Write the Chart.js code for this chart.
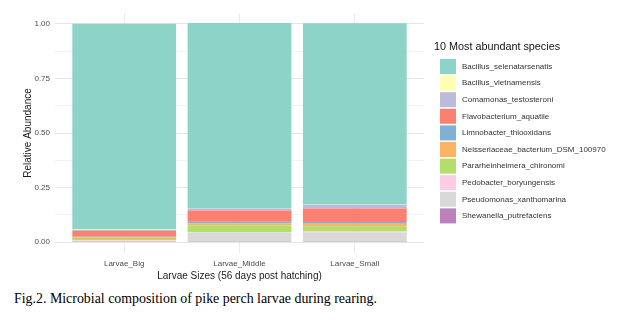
<!DOCTYPE html>
<html>
<head>
<meta charset="utf-8">
<script src="https://cdn.jsdelivr.net/npm/chart.js@4.4.1/dist/chart.umd.min.js"></script>
<style>
  html, body { margin: 0; padding: 0; background: #ffffff; }
  #wrap { position: relative; width: 627px; height: 285px; }
  #caption { position: absolute; left: 14px; top: 291px; font-family: "Liberation Serif", "Times New Roman", serif; font-size: 13.9px; color: #000; white-space: nowrap; }
</style>
</head>
<body>
<div id="wrap"><canvas id="c" width="627" height="285"></canvas></div>
<div id="caption">Fig.2. Microbial composition of pike perch larvae during rearing.</div>
<script>
const categories = ["Larvae_Big", "Larvae_Middle", "Larvae_Small"];
const species = [
  "Bacillus_selenatarsenatis",
  "Bacillus_vietnamensis",
  "Comamonas_testosteroni",
  "Flavobacterium_aquatile",
  "Limnobacter_thiooxidans",
  "Neisseriaceae_bacterium_DSM_100970",
  "Pararheinheimera_chironomi",
  "Pedobacter_boryungensis",
  "Pseudomonas_xanthomarina",
  "Shewanella_putrefaciens"
];
const colors = ["#8DD3C7", "#FFFFB3", "#BEBADA", "#FB8072", "#80B1D3", "#FDB462", "#B3DE69", "#FCCDE5", "#D9D9D9", "#BC80BD"];
// values per species, for [Big, Middle, Small]
const Bacillus_selenatarsenatis = [0.943, 0.849, 0.831];
const Bacillus_vietnamensis     = [0.003, 0.001, 0.001];
const Comamonas_testosteroni    = [0.004, 0.009, 0.017];
const Flavobacterium_aquatile   = [0.025, 0.052, 0.062];
const Limnobacter_thiooxidans   = [0.004, 0.008, 0.008];
const Neisseriaceae_bacterium   = [0.008, 0.008, 0.011];
const Pararheinheimera_chironomi= [0.006, 0.032, 0.024];
const Pedobacter_boryungensis   = [0.002, 0.001, 0.006];
const Pseudomonas_xanthomarina  = [0.005, 0.043, 0.042];
const Shewanella_putrefaciens   = [0.001, 0.001, 0.001];
const seriesValues = [Bacillus_selenatarsenatis, Bacillus_vietnamensis, Comamonas_testosteroni, Flavobacterium_aquatile,
  Limnobacter_thiooxidans, Neisseriaceae_bacterium, Pararheinheimera_chironomi, Pedobacter_boryungensis,
  Pseudomonas_xanthomarina, Shewanella_putrefaciens];
const yTicks = [0, 0.125, 0.25, 0.375, 0.5, 0.625, 0.75, 0.875, 1];
const legendTitle = "10 Most abundant species";

// datasets stacked bottom-up (last species at bottom, like ggplot)
const datasets = [];
for (let s = species.length - 1; s >= 0; s--) {
  datasets.push({
    label: species[s],
    data: seriesValues[s].map((v, i) => ({x: i, y: v})),
    backgroundColor: colors[s],
    borderWidth: 0,
    barPercentage: 0.9,
    categoryPercentage: 1.0
  });
}

const legendPlugin = {
  id: 'ggLegend',
  afterDraw(chart) {
    const ctx = chart.ctx;
    ctx.save();
    ctx.fillStyle = '#111111';
    ctx.font = '10.8px "Liberation Sans", Arial, sans-serif';
    ctx.textBaseline = 'middle';
    ctx.textAlign = 'left';
    ctx.fillText(legendTitle, 434, 47);
    const pitch = 16.6;
    for (let i = 0; i < species.length; i++) {
      const y = 59 + i * pitch;
      ctx.fillStyle = colors[i];
      ctx.fillRect(440, y, 16, 15);
      ctx.fillStyle = '#333333';
      ctx.font = '8px "Liberation Sans", Arial, sans-serif';
      ctx.fillText(species[i], 462, y + 7.5);
    }
    ctx.restore();
  }
};

new Chart(document.getElementById('c'), {
  type: 'bar',
  data: { datasets },
  options: {
    responsive: false,
    animation: false,
    layout: { padding: { left: 18, right: 203, top: 13, bottom: 3 } },
    plugins: { legend: { display: false }, tooltip: { enabled: false } },
    scales: {
      x: {
        type: 'linear',
        stacked: true,
        offset: false,
        min: -0.6,
        max: 2.6,
        afterBuildTicks: (sc) => { sc.ticks = categories.map((c, i) => ({value: i})); },
        afterFit: (sc) => { sc.height = 29; },
        ticks: {
          callback: (v) => categories[v] !== undefined ? categories[v] : '',
          color: '#4d4d4d',
          font: { family: '"Liberation Sans", Arial, sans-serif', size: 8 },
          padding: 6,
          maxRotation: 0,
          autoSkip: false
        },
        grid: { color: '#ebebeb', lineWidth: 1, drawTicks: false, offset: false },
        border: { display: false },
        title: {
          display: true,
          text: 'Larvae Sizes (56 days post hatching)',
          color: '#1a1a1a',
          font: { family: '"Liberation Sans", Arial, sans-serif', size: 10 },
          padding: { top: 0, bottom: 0 }
        }
      },
      y: {
        stacked: true,
        min: -0.05,
        max: 1.05,
        afterBuildTicks: (sc) => { sc.ticks = yTicks.map(v => ({value: v})); },
        afterFit: (sc) => { sc.width = 37; },
        ticks: {
          callback: (v) => (Math.abs(v * 4 - Math.round(v * 4)) < 1e-9) ? v.toFixed(2) : '',
          color: '#4d4d4d',
          font: { family: '"Liberation Sans", Arial, sans-serif', size: 8 },
          padding: 5,
          autoSkip: false
        },
        grid: {
          color: (c) => (c.tick && Math.abs(c.tick.value * 4 - Math.round(c.tick.value * 4)) < 1e-9) ? '#e6e6e6' : '#f3f3f3',
          lineWidth: 1,
          drawTicks: false
        },
        border: { display: false },
        title: {
          display: true,
          text: 'Relative Abundance',
          color: '#1a1a1a',
          font: { family: '"Liberation Sans", Arial, sans-serif', size: 10 },
          padding: { top: 4, bottom: 0 }
        }
      }
    }
  },
  plugins: [legendPlugin]
});
</script>
</body>
</html>
